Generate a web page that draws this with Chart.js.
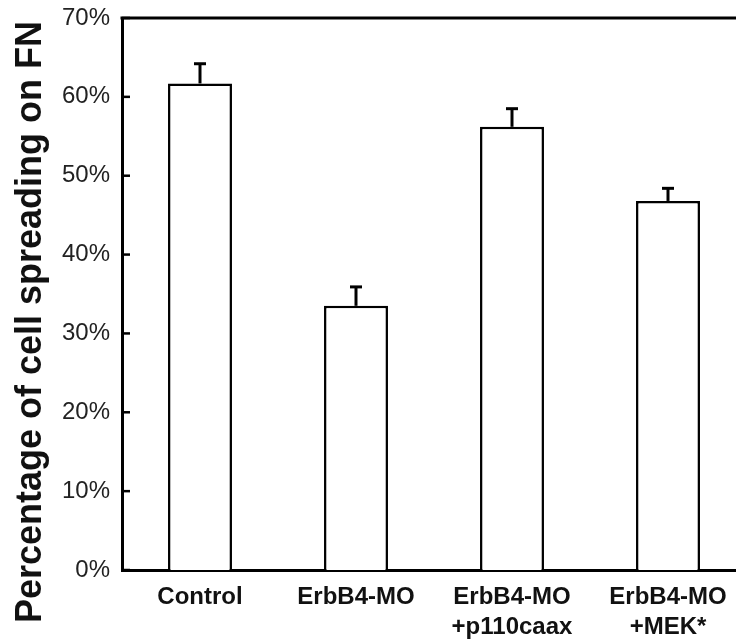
<!DOCTYPE html>
<html>
<head>
<meta charset="utf-8">
<script src="https://cdn.jsdelivr.net/npm/chart.js@4"></script>
<style>
  html, body { margin: 0; padding: 0; background: #fff; overflow: hidden; width: 736px; height: 644px; }
  canvas { display: block; }
</style>
</head>
<body>
<canvas id="c" width="760" height="644"></canvas>
<script>
const categories = [["Control"], ["ErbB4-MO"], ["ErbB4-MO", "+p110caax"], ["ErbB4-MO", "+MEK*"]];
const values = [61.7, 33.5, 56.2, 46.8];
const errors = [2.5, 2.4, 2.3, 1.6];
const yTicks = [0, 10, 20, 30, 40, 50, 60, 70];
const yTitle = "Percentage of cell spreading on FN";

const AREA = { left: 122, top: 18, right: 746, bottom: 570 };

const decor = {
  id: 'decor',
  afterDatasetsDraw(chart) {
    const ctx = chart.ctx;
    const y = chart.scales.y;
    const ca = chart.chartArea;
    const meta = chart.getDatasetMeta(0);
    ctx.save();
    ctx.strokeStyle = '#000';
    meta.data.forEach((bar, i) => {
      const top = y.getPixelForValue(values[i] + errors[i]);
      const base = y.getPixelForValue(values[i]);
      ctx.lineWidth = 3;
      ctx.beginPath();
      ctx.moveTo(bar.x, base);
      ctx.lineTo(bar.x, top);
      ctx.stroke();
      ctx.beginPath();
      ctx.moveTo(bar.x - 6, top);
      ctx.lineTo(bar.x + 6, top);
      ctx.stroke();
    });
    ctx.lineWidth = 2.5;
    yTicks.forEach(v => {
      const py = y.getPixelForValue(v);
      ctx.beginPath();
      ctx.moveTo(ca.left, py);
      ctx.lineTo(ca.left + 8, py);
      ctx.stroke();
    });
    ctx.lineWidth = 3;
    ctx.beginPath();
    ctx.moveTo(ca.left - 1.5, ca.top);
    ctx.lineTo(ca.right + 20, ca.top);
    ctx.stroke();
    ctx.translate(31, 322);
    ctx.rotate(-Math.PI / 2);
    ctx.fillStyle = '#111';
    ctx.font = 'bold 36px "Liberation Sans", Arial, sans-serif';
    ctx.textAlign = 'center';
    ctx.textBaseline = 'middle';
    ctx.fillText(yTitle, 0, 0);
    ctx.restore();
  }
};

new Chart(document.getElementById('c'), {
  type: 'bar',
  data: {
    labels: categories,
    datasets: [{
      data: values,
      backgroundColor: '#fff',
      borderColor: '#000',
      borderWidth: 2.5,
      borderSkipped: 'bottom',
      categoryPercentage: 1,
      barPercentage: 0.41
    }]
  },
  options: {
    responsive: false,
    animation: false,
    devicePixelRatio: 1,
    layout: { padding: { left: 0, top: AREA.top, right: 760 - AREA.right, bottom: 0 } },
    plugins: { legend: { display: false }, tooltip: { enabled: false } },
    scales: {
      x: {
        type: 'category',
        offset: true,
        grid: { display: false, drawTicks: false },
        border: { display: true, color: '#000', width: 3 },
        ticks: {
          color: '#111',
          font: { family: '"Liberation Sans", Arial, sans-serif', size: 24, weight: 'bold', lineHeight: 1.22 },
          padding: 13,
          maxRotation: 0,
          autoSkip: false
        },
        afterFit(scale) { scale.height = 644 - AREA.bottom; scale.paddingLeft = 0; scale.paddingRight = 0; }
      },
      y: {
        min: 0,
        max: 70,
        afterBuildTicks(scale) { scale.ticks = yTicks.map(v => ({ value: v })); },
        grid: { display: false, drawTicks: false },
        border: { display: true, color: '#000', width: 3 },
        ticks: {
          color: '#222',
          font: { family: '"Liberation Sans", Arial, sans-serif', size: 24 },
          padding: 12,
          callback: v => v + '%'
        },
        afterFit(scale) { scale.width = AREA.left; scale.paddingTop = 0; scale.paddingBottom = 0; }
      }
    }
  },
  plugins: [decor]
});
</script>
</body>
</html>
